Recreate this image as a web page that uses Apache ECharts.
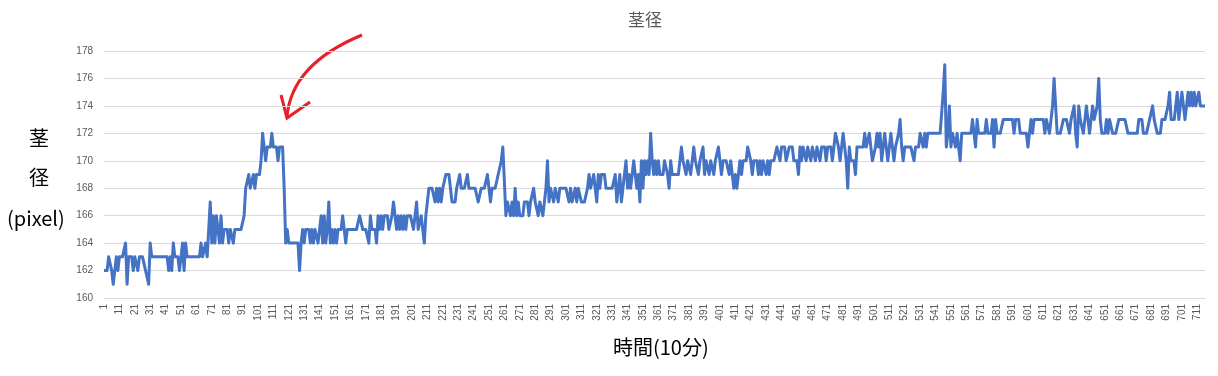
<!DOCTYPE html>
<html>
<head>
<meta charset="utf-8">
<script src="https://cdn.jsdelivr.net/npm/echarts@6/dist/echarts.min.js"></script>
<style>
html,body{margin:0;padding:0;background:#fff;}
#chart{width:1218px;height:376px;}
</style>
</head>
<body>
<div id="chart"></div>
<script>
const titleText = '茎径';
const xAxisTitle = '時間(10分)';
const yAxisTitleLines = ['茎', '径', '(pixel)'];
const yTicks = [160, 162, 164, 166, 168, 170, 172, 174, 176, 178];

const stemDiameter = [
162,162,162,163,163,162,161,162,163,162,
163,163,163,163,164,161,163,163,163,162,
163,163,162,163,163,163,163,162,162,161,
164,163,163,163,163,163,163,163,163,163,
163,163,162,163,162,164,163,163,163,162,
163,164,162,164,163,163,163,163,163,163,
163,163,163,164,163,163,164,163,163,167,
164,166,164,166,165,164,166,164,165,165,
165,164,165,165,164,165,165,165,165,165,
165,166,168,168,169,168,168,169,168,169,
169,169,170,172,172,170,171,171,171,172,
171,171,171,170,171,171,171,168,164,165,
164,164,164,164,164,164,164,162,164,165,
164,165,165,165,164,165,164,165,165,164,
165,166,164,166,164,165,167,164,165,164,
165,164,165,165,165,166,165,164,165,165,
165,165,165,165,165,165,166,166,165,165,
165,165,164,166,165,165,165,164,166,165,
166,165,166,166,166,165,165,166,167,166,
165,166,165,166,165,166,165,166,166,166,
166,165,166,167,165,165,166,165,164,166,
166,168,168,168,168,167,168,167,168,167,
168,168,169,169,169,168,167,167,167,168,
168,169,168,168,168,168,169,168,168,168,
168,168,168,167,167,168,168,168,168,169,
168,167,168,168,168,168,169,169,170,171,
171,166,167,167,166,167,166,168,166,167,
166,166,166,167,167,167,166,167,167,168,
167,167,166,167,167,166,167,168,170,167,
168,168,167,168,168,167,168,168,168,168,
168,168,167,168,167,167,168,167,168,168,
167,167,167,167,168,169,168,168,169,168,
167,169,168,169,169,169,168,168,168,168,
168,168,169,167,168,169,167,168,168,170,
168,169,168,169,170,170,168,169,167,170,
168,170,169,170,169,172,170,169,170,169,
170,169,169,169,170,170,169,168,170,169,
169,169,169,169,170,171,170,170,169,170,
170,169,170,171,170,170,169,170,170,171,
169,170,170,169,170,170,169,170,170,171,
170,169,170,170,170,170,169,170,170,168,
169,168,169,170,169,170,170,170,171,171,
170,169,170,170,170,169,170,169,170,170,
169,170,169,170,170,170,170,171,171,170,
171,171,171,170,170,171,171,171,170,170,
170,169,171,170,171,171,170,171,171,170,
171,171,170,171,171,170,171,171,171,170,
171,171,171,170,171,172,172,171,170,171,
172,171,170,168,171,170,170,170,169,171,
171,171,171,171,172,171,171,172,172,170,
170,171,172,171,172,170,171,172,171,170,
171,172,171,170,171,171,172,173,171,170,
171,171,171,171,171,171,170,171,171,171,
172,172,171,172,171,172,172,172,172,172,
172,172,172,172,172,175,177,171,172,174,
171,172,172,171,172,171,170,172,172,172,
172,172,172,172,173,172,171,173,172,172,
172,172,172,173,172,172,172,173,171,173,
172,172,172,172,173,173,173,173,173,173,
173,172,173,173,173,172,172,172,172,172,
171,172,173,172,173,173,173,173,173,173,
173,172,173,173,172,173,174,176,174,172,
172,172,172,173,173,173,173,172,173,173,
174,172,171,174,173,173,172,173,174,173,
172,173,174,173,173,174,176,173,172,172,
172,173,172,173,173,172,172,172,172,173,
173,173,173,173,173,172,172,172,172,172,
172,172,173,173,173,172,172,172,172,173,
173,174,173,173,172,172,172,173,173,173,
173,174,175,173,173,173,174,175,173,174,
175,174,173,174,175,174,175,174,175,174,
174,175,174,174,174,174
];

const categories = stemDiameter.map((_, i) => String(i + 1));

const chart = echarts.init(document.getElementById('chart'), null, {renderer: 'canvas'});
const numFont = '"Liberation Sans", "Noto Sans", sans-serif';
const cjkFont = '"Noto Sans CJK JP", "Noto Sans", sans-serif';

chart.setOption({
  animation: false,
  backgroundColor: '#ffffff',
  title: {
    text: titleText,
    left: 640, top: 6,
    textAlign: 'center',
    textStyle: {fontFamily: cjkFont, fontSize: 17, fontWeight: 'normal', color: '#595959'}
  },
  grid: {left: 104, right: 13, top: 51, bottom: 78, containLabel: false},
  xAxis: {
    type: 'category',
    data: categories,
    boundaryGap: false,
    axisLine: {show: true, lineStyle: {color: '#d9d9d9', width: 1}},
    axisTick: {show: false},
    axisLabel: {
      interval: 9, rotate: 90, margin: 6,
      fontFamily: numFont, fontSize: 10, color: '#595959'
    },
    splitLine: {show: false}
  },
  yAxis: {
    type: 'value',
    min: yTicks[0], max: yTicks[yTicks.length - 1], interval: 2,
    axisLine: {show: false},
    axisTick: {show: false},
    axisLabel: {margin: 11, fontFamily: numFont, fontSize: 10, color: '#595959'},
    splitLine: {show: true, lineStyle: {color: '#d9d9d9', width: 1}}
  },
  series: [{
    type: 'line',
    data: stemDiameter,
    showSymbol: false,
    symbol: 'none',
    lineStyle: {color: '#4472C4', width: 3, join: 'round'},
    itemStyle: {color: '#4472C4'}
  }],
  graphic: [
    {type: 'text', left: 29, top: 128, style: {text: yAxisTitleLines[0], font: '20px ' + cjkFont, fill: '#000'}},
    {type: 'text', left: 29, top: 167, style: {text: yAxisTitleLines[1], font: '20px ' + cjkFont, fill: '#000'}},
    {type: 'text', left: 7, top: 208, style: {text: yAxisTitleLines[2], font: '20px ' + cjkFont, fill: '#000'}},
    {type: 'text', left: 613, top: 337, style: {text: xAxisTitle, font: '20px ' + cjkFont, fill: '#000'}},
    {type: 'bezierCurve', shape: {x1: 362, y1: 35, cpx1: 316, cpy1: 54, cpx2: 290, cpy2: 80, x2: 287, y2: 117},
      style: {stroke: '#E8202A', lineWidth: 3, fill: null}},
    {type: 'polyline', shape: {points: [[281, 95], [287, 118], [310, 102]]},
      style: {stroke: '#E8202A', lineWidth: 3, fill: null, lineJoin: 'miter'}}
  ]
});
</script>
</body>
</html>
